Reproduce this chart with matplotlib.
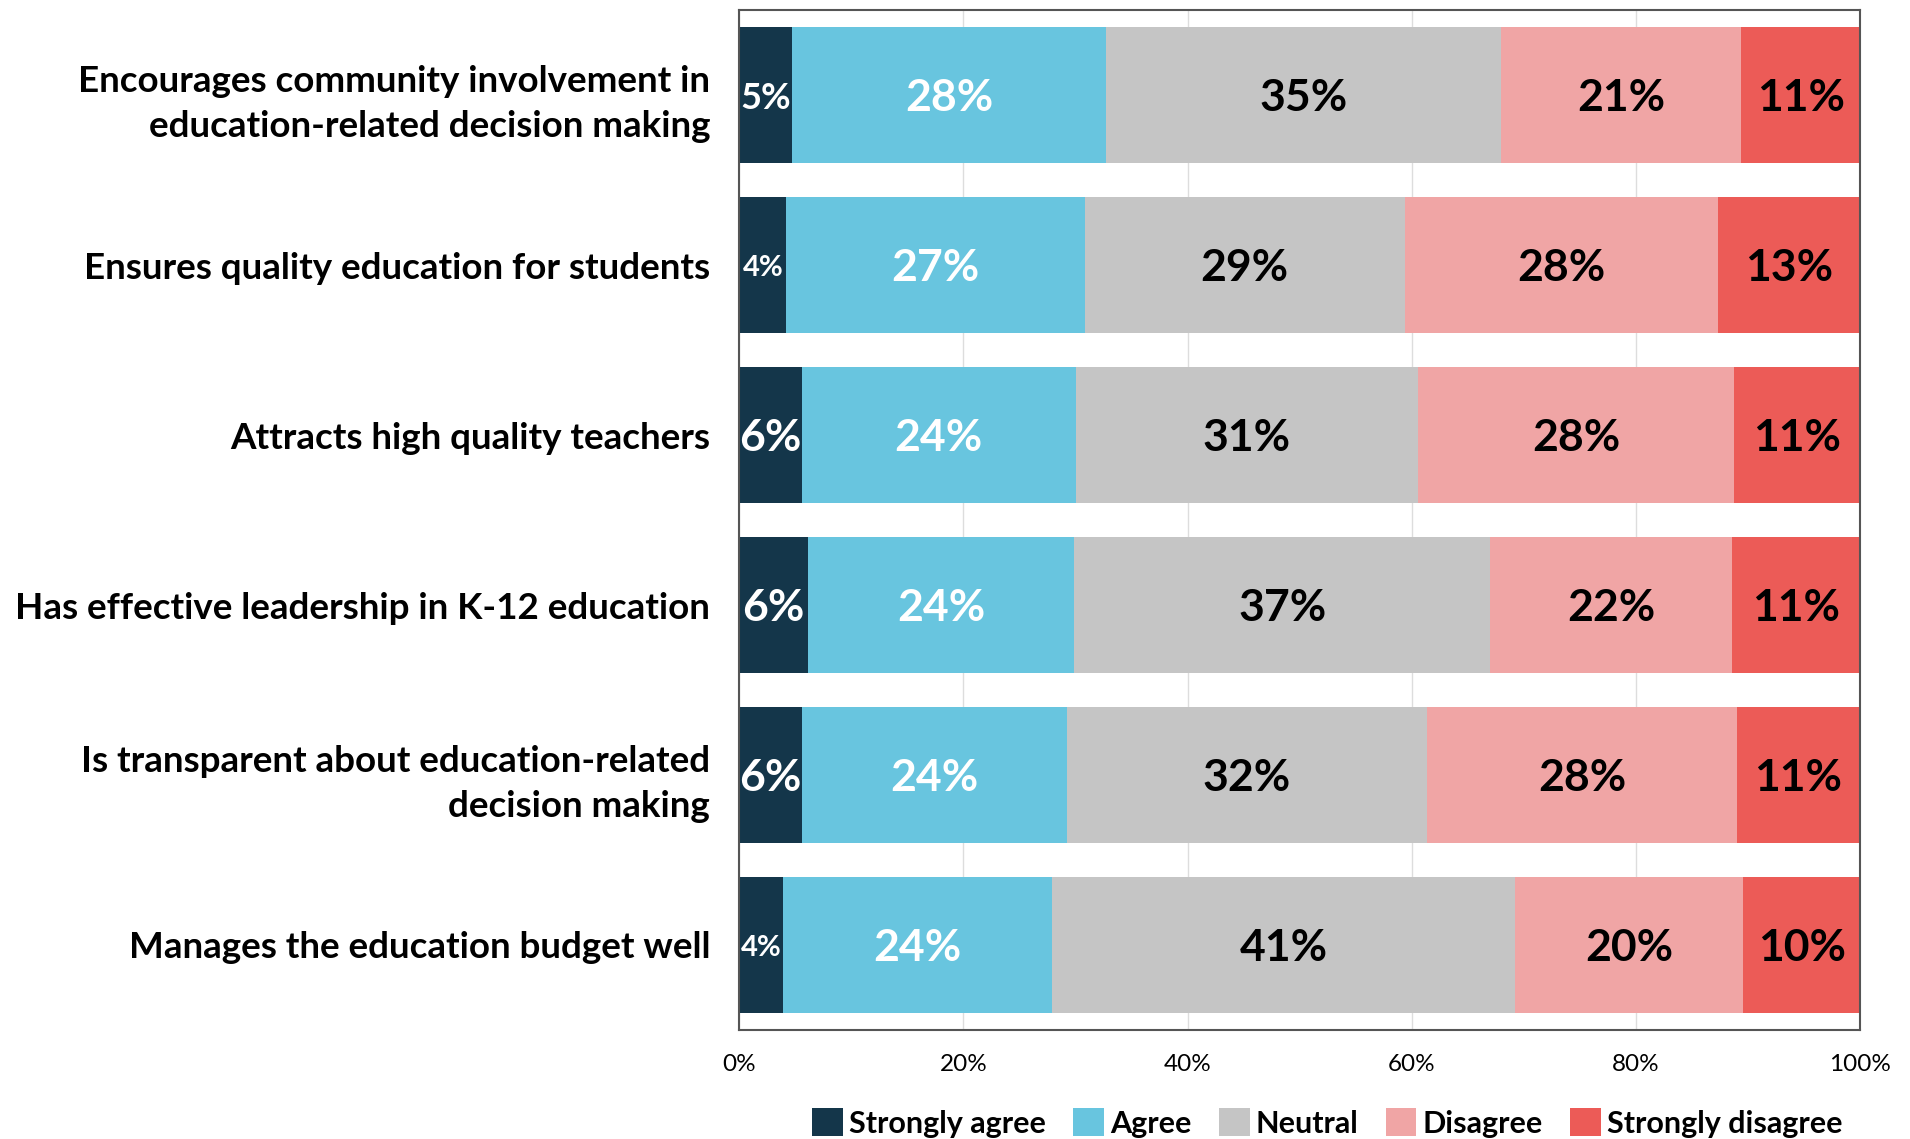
# Stacked bar chart of agreement levels with education-related statements

import matplotlib.pyplot as plt
import numpy as np

plt.rcParams['font.family'] = ['Lato', 'DejaVu Sans']

# Statements, top to bottom
statements = [
    'Encourages community involvement in\neducation-related decision making',
    'Ensures quality education for students',
    'Attracts high quality teachers',
    'Has effective leadership in K-12 education',
    'Is transparent about education-related\ndecision making',
    'Manages the education budget well',
]

# Percentage shares per response (same order as statements)
strongly_agree = [4.7, 4.2, 5.6, 6.1, 5.6, 3.9]
agree = [28.0, 26.6, 24.4, 23.8, 23.6, 24.0]
neutral = [35.3, 28.6, 30.6, 37.1, 32.2, 41.3]
disagree = [21.4, 27.9, 28.2, 21.6, 27.6, 20.4]
strongly_disagree = [10.6, 12.8, 11.2, 11.4, 11.0, 10.4]

responses = ['Strongly agree', 'Agree', 'Neutral', 'Disagree', 'Strongly disagree']
series = [strongly_agree, agree, neutral, disagree, strongly_disagree]
colors = ['#14364A', '#68C5DF', '#C5C5C5', '#F0A5A5', '#EC5B57']
text_colors = ['white', 'white', 'black', 'black', 'black']

fig = plt.figure(figsize=(19.1, 11.39), dpi=100)
ax = fig.add_axes([0.3871, 0.0957, 0.5867, 0.8955])

y = np.arange(len(statements))
left = np.zeros(len(statements))

for vals, name, col, tcol in zip(series, responses, colors, text_colors):
    vals = np.array(vals)
    ax.barh(y, vals, left=left, height=0.8, color=col, label=name, zorder=2)
    for yi, (l, v) in enumerate(zip(left, vals)):
        # smaller labels on the narrow segments
        if v < 4.5:
            fs = 21
        elif v < 5.0:
            fs = 26
        else:
            fs = 32
        ax.text(l + v / 2, yi + 0.02, f'{v:.0f}%', ha='center', va='center',
                color=tcol, fontsize=fs, fontweight='bold', zorder=3)
    left += vals

ax.set_xlim(0, 100)
ax.set_ylim(len(statements) - 0.5, -0.5)
ax.set_yticks(y)
ax.set_yticklabels(statements, fontsize=26.5, fontweight='bold', ha='right',
                   linespacing=1.45)
ax.set_xticks(np.arange(0, 101, 20))
ax.set_xticklabels([f'{t}%' for t in range(0, 101, 20)], fontsize=17.5)
ax.tick_params(axis='y', length=0, pad=21)
ax.tick_params(axis='x', length=0, pad=17)

ax.grid(axis='x', color='#DDDDDD', linewidth=1, zorder=0)
for s in ax.spines.values():
    s.set_color('#555555')
    s.set_linewidth(1.5)

ax.legend(loc='center', bbox_to_anchor=(0.695, 0.014), bbox_transform=fig.transFigure,
          ncol=5, frameon=False, prop={'size': 22, 'weight': 'bold'},
          handlelength=1.0, handleheight=1.0, handletextpad=0.2, columnspacing=0.9)

plt.savefig('out.png')
